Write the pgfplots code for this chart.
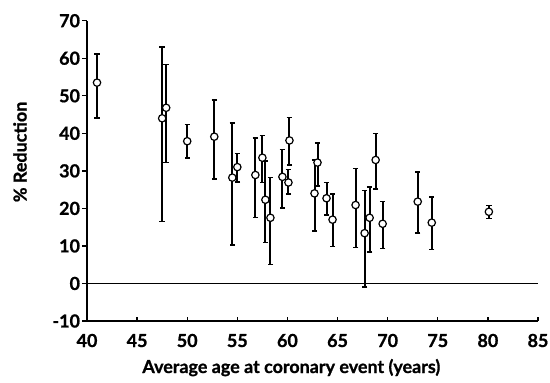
\documentclass[border=0pt]{standalone}
\usepackage{fontspec}
\setmainfont{Lato}[BoldFeatures={FakeBold=1.0}]
\usepackage{pgfplots}
\usepackage{pgfplotstable}
\pgfplotsset{compat=1.18}
\pgfplotstableread{
x y hi lo
41.0 53.5 61.2 44.1
47.5 44.0 63.0 16.5
47.9 46.8 58.3 32.2
50.0 37.9 42.4 33.4
52.7 39.1 48.8 27.8
54.5 28.2 42.7 10.3
55.0 31.0 34.6 27.1
56.8 28.9 38.7 17.6
57.5 33.5 39.4 26.9
57.8 22.3 32.6 10.9
58.3 17.5 28.2 5.0
59.5 28.4 35.7 20.1
60.1 26.9 30.4 23.8
60.2 38.1 44.2 31.6
62.7 24.0 32.9 14.0
63.0 32.2 37.5 26.0
63.9 22.7 26.9 18.3
64.5 17.0 23.9 9.8
66.8 20.9 30.6 9.6
67.7 13.4 24.8 -0.9
68.2 17.5 25.7 8.4
68.8 32.9 39.9 25.1
69.5 15.9 21.8 9.3
73.0 21.8 29.7 13.4
74.4 16.2 23.0 9.0
80.1 19.1 20.8 17.3
}\datatable
\begin{document}
\begin{tikzpicture}
\path[use as bounding box] (-87bp,-62bp) rectangle (463bp,321bp);
\begin{axis}[
  at={(0,0)}, anchor=south west,
  scale only axis, width=451bp, height=300.3bp,
  xmin=40, xmax=85, ymin=-10, ymax=70,
  axis x line=bottom, axis y line=left,
  axis line style={-, line width=1.6bp},
  xtick={40,45,...,85}, ytick={-10,0,...,70},
  xtick align=inside, ytick align=outside,
  major tick length=4.5bp,
  tick style={line width=1.4bp, black},
  /pgf/number format/assume math mode=true,
  tick label style={font=\bfseries\fontsize{18}{18}\selectfont},
  label style={font=\bfseries\fontsize{18}{18}\selectfont},
  xticklabel style={anchor=base, yshift=-26bp},
  yticklabel style={xshift=1bp},
  xlabel={Average age at coronary event (years)},
  xlabel style={at={([yshift=-52bp]rel axis cs:0.453,0)}, anchor=base},
  ylabel={\% Reduction},
  ylabel style={at={([xshift=-67bp]rel axis cs:0,0.563)}, anchor=center, rotate=0},
  clip=false,
]
\addplot[black, line width=1.5bp, forget plot] coordinates {(40,0) (85,0)};
\addplot[only marks, mark=*, mark size=3.7bp,
  mark options={fill=white, draw=black, line width=1.2bp},
  error bars/.cd, y dir=both, y explicit,
  error bar style={line width=2bp, black},
  error mark options={rotate=90, mark size=2.7bp, line width=1.6bp, black}]
  table[x=x, y=y, y error plus expr=\thisrow{hi}-\thisrow{y}, y error minus expr=\thisrow{y}-\thisrow{lo}] {\datatable};
\end{axis}
\end{tikzpicture}
\end{document}
